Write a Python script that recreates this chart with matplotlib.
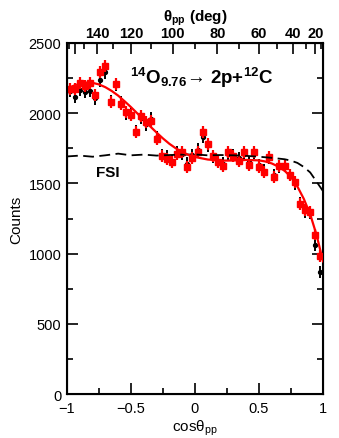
import numpy as np
import matplotlib
matplotlib.use("Agg")
import matplotlib.pyplot as plt
from matplotlib.ticker import MultipleLocator, FixedLocator

plt.rcParams['font.family'] = ['Liberation Sans', 'DejaVu Sans']
plt.rcParams['mathtext.fontset'] = 'custom'
plt.rcParams['mathtext.rm'] = 'Liberation Sans'
plt.rcParams['mathtext.it'] = 'Liberation Sans'
plt.rcParams['mathtext.bf'] = 'Liberation Sans:bold'

# bin centres in cos(theta_pp), 50 bins of 0.04
cos_bins = np.arange(-0.98, 1.0, 0.04)

red_counts = [2172, 2172, 2213, 2196, 2213, 2130, 2296, 2334, 2080, 2208,
              2066, 2011, 1987, 1864, 1978, 1935, 1947, 1816, 1697, 1674,
              1650, 1709, 1721, 1619, 1680, 1721, 1864, 1781, 1697, 1650,
              1626, 1721, 1697, 1662, 1721, 1631, 1726, 1615, 1580, 1690,
              1543, 1626, 1622, 1558, 1512, 1353, 1313, 1298, 1136, 983]
red_err = 42

black_counts = [2160, 2115, 2165, 2150, 2160, 2105, 2235, 2290, 2085, 2200,
                2075, 2000, 1995, 1870, 1965, 1920, 1960, 1830, 1700, 1690,
                1660, 1720, 1710, 1640, 1700, 1740, 1830, 1770, 1690, 1660,
                1640, 1710, 1700, 1680, 1710, 1650, 1720, 1630, 1590, 1680,
                1560, 1620, 1630, 1560, 1500, 1360, 1300, 1290, 1060, 870]
black_err = 45

# fit curve (red)
fit_x = [-1.0, -0.95, -0.9, -0.85, -0.8, -0.75, -0.7, -0.65, -0.6, -0.55,
         -0.5, -0.45, -0.4, -0.35, -0.3, -0.25, -0.2, -0.15, -0.1, -0.05,
         0.0, 0.1, 0.2, 0.3, 0.4, 0.5, 0.55, 0.6, 0.65, 0.7, 0.75, 0.8,
         0.85, 0.9, 0.95, 1.0]
fit_y = [2175, 2195, 2210, 2218, 2216, 2205, 2185, 2158, 2125, 2085,
         2043, 1998, 1952, 1906, 1862, 1820, 1782, 1750, 1723, 1703,
         1688, 1670, 1662, 1663, 1667, 1664, 1656, 1642, 1620, 1590, 1545,
         1478, 1390, 1280, 1132, 945]

# FSI curve (dashed)
fsi_x = [-1.0, -0.9, -0.8, -0.7, -0.6, -0.5, -0.4, -0.3, -0.2, -0.1, 0.0,
         0.1, 0.2, 0.3, 0.4, 0.5, 0.6, 0.7, 0.75, 0.8, 0.85, 0.9, 0.95, 1.0]
fsi_y = [1692, 1698, 1690, 1700, 1712, 1700, 1705, 1698, 1702, 1705, 1706,
         1700, 1702, 1700, 1696, 1690, 1682, 1672, 1662, 1646, 1617, 1578,
         1512, 1445]

theta_major = [20, 40, 60, 80, 100, 120, 140, 160, 180]
theta_labels = ['20', '40', '60', '80', '100', '120', '140', '', '']
theta_minor = [10, 30, 50, 70, 90, 110, 130, 150, 170]

fig = plt.figure(figsize=(3.39, 4.39), dpi=100)
ax = fig.add_axes([0.1976, 0.1002, 0.7552, 0.7996])

ax.errorbar(cos_bins, black_counts, yerr=black_err, fmt='o', color='black',
            markersize=2.8, elinewidth=1.4, capsize=0, zorder=2)
ax.errorbar(cos_bins, red_counts, yerr=red_err, fmt='s', color='red',
            markersize=4.0, elinewidth=1.6, capsize=0, zorder=3)
ax.plot(fsi_x, fsi_y, color='black', lw=1.3, dashes=(6, 3), zorder=4)
ax.plot(fit_x, fit_y, color='red', lw=1.6, zorder=5)

ax.set_xlim(-1, 1)
ax.set_ylim(0, 2500)
ax.xaxis.set_major_locator(MultipleLocator(0.5))
ax.xaxis.set_minor_locator(MultipleLocator(0.25))
ax.yaxis.set_major_locator(MultipleLocator(500))
ax.yaxis.set_minor_locator(MultipleLocator(250))
ax.set_xticks([-1, -0.5, 0, 0.5, 1])
ax.set_xticklabels(['\u22121', '\u22120.5', '0', '0.5', '1'])
ax.tick_params(which='both', direction='in', labelsize=10.5, width=1.2)
ax.tick_params(which='major', length=8)
ax.tick_params(which='minor', length=4)
ax.tick_params(axis='x', which='both', top=False, pad=5)
ax.tick_params(axis='y', which='both', right=True, pad=4)
for s in ax.spines.values():
    s.set_linewidth(1.5)

ax.set_xlabel(r'cos$\theta_{\rm pp}$', fontsize=11, labelpad=2)
ax.set_ylabel('Counts', fontsize=11, labelpad=4)

# top axis in theta_pp (deg)
top = ax.twiny()
top.set_xlim(-1, 1)
top.xaxis.set_major_locator(FixedLocator(np.cos(np.radians(theta_major))))
top.set_xticklabels(theta_labels, fontweight='bold')
top.xaxis.set_minor_locator(FixedLocator(np.cos(np.radians(theta_minor))))
top.tick_params(which='both', direction='in', labelsize=10.5, width=1.2, pad=2)
top.tick_params(which='major', length=8)
top.tick_params(which='minor', length=4)
top.set_xlabel(r'$\mathbf{\theta_{pp}}$ (deg)', fontsize=11,
               fontweight='bold', labelpad=4)

ax.text(0.246, 2215,
        r'$\mathbf{^{14}O_{9.76}}$' + '\u2192 2p+' + r'$\mathbf{^{12}C}$',
        transform=ax.get_yaxis_transform(), fontsize=13.5, fontweight='bold',
        va='baseline', ha='left')
ax.text(-0.773, 1581, 'FSI', fontsize=11, fontweight='bold', va='center',
        ha='left')

fig.savefig('out.png', dpi=100)
